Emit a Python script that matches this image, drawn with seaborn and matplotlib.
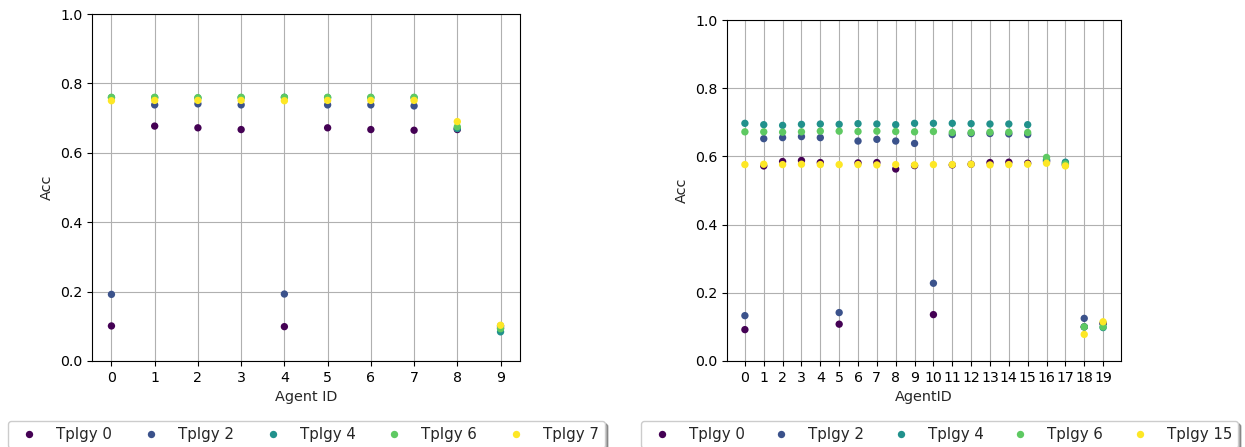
import numpy as np
import pandas as pd
import matplotlib
matplotlib.use("Agg")
import matplotlib.pyplot as plt
import seaborn as sns

# ---- left panel: 10 agents ----
agents_a = list(range(10))
topos_a = ["Tplgy 0", "Tplgy 2", "Tplgy 4", "Tplgy 6", "Tplgy 7"]
acc_a_t0 = [0.101, 0.677, 0.672, 0.667, 0.099, 0.672, 0.667, 0.665, 0.667, 0.101]
acc_a_t2 = [0.192, 0.738, 0.741, 0.738, 0.193, 0.738, 0.738, 0.735, 0.670, 0.095]
acc_a_t4 = [0.759, 0.759, 0.758, 0.759, 0.760, 0.759, 0.759, 0.759, 0.670, 0.084]
acc_a_t6 = [0.760, 0.760, 0.759, 0.760, 0.760, 0.760, 0.760, 0.760, 0.675, 0.093]
acc_a_t7 = [0.750, 0.751, 0.751, 0.751, 0.750, 0.751, 0.751, 0.751, 0.690, 0.103]

# ---- right panel: 20 agents ----
agents_b = list(range(20))
topos_b = ["Tplgy 0", "Tplgy 2", "Tplgy 4", "Tplgy 6", "Tplgy 15"]
acc_b_t0 = [0.092, 0.572, 0.585, 0.588, 0.582, 0.108, 0.581, 0.582, 0.563, 0.573,
            0.136, 0.575, 0.577, 0.582, 0.583, 0.580, 0.585, 0.575, 0.100, 0.110]
acc_b_t2 = [0.133, 0.652, 0.655, 0.658, 0.655, 0.142, 0.645, 0.650, 0.645, 0.638,
            0.228, 0.664, 0.667, 0.667, 0.666, 0.664, 0.588, 0.580, 0.125, 0.110]
acc_b_t4 = [0.697, 0.693, 0.691, 0.694, 0.695, 0.694, 0.696, 0.695, 0.693, 0.697,
            0.697, 0.697, 0.696, 0.695, 0.695, 0.693, 0.590, 0.583, 0.100, 0.098]
acc_b_t6 = [0.672, 0.672, 0.671, 0.672, 0.674, 0.674, 0.673, 0.674, 0.673, 0.672,
            0.673, 0.670, 0.670, 0.671, 0.671, 0.670, 0.597, 0.578, 0.100, 0.100]
acc_b_t15 = [0.576, 0.577, 0.576, 0.577, 0.576, 0.576, 0.576, 0.575, 0.576, 0.575,
             0.576, 0.576, 0.577, 0.575, 0.576, 0.577, 0.580, 0.572, 0.078, 0.115]


def long_df(agents, topos, series):
    rows = []
    for name, vals in zip(topos, series):
        for a, v in zip(agents, vals):
            rows.append({"agent": a, "acc": v, "topo": name})
    return pd.DataFrame(rows)


df_a = long_df(agents_a, topos_a, [acc_a_t0, acc_a_t2, acc_a_t4, acc_a_t6, acc_a_t7])
df_b = long_df(agents_b, topos_b, [acc_b_t0, acc_b_t2, acc_b_t4, acc_b_t6, acc_b_t15])

# viridis including both ends, as matplotlib would sample it
colors = [matplotlib.colors.to_hex(c) for c in plt.cm.viridis(np.linspace(0, 1, 5))]

sns.set_style("ticks", {"axes.grid": True, "grid.color": "#b0b0b0",
                        "axes.edgecolor": "black", "xtick.color": "black",
                        "ytick.color": "black"})
plt.rcParams["font.family"] = ["DejaVu Sans"]
plt.rcParams["font.size"] = 10

W, H = 1245, 447
fig = plt.figure(figsize=(W / 100, H / 100), dpi=100)
ax1 = fig.add_axes([92 / W, 1 - 361 / H, 428 / W, 347 / H])
ax2 = fig.add_axes([727 / W, 1 - 361 / H, 394 / W, 341 / H])

panels = [(ax1, df_a, topos_a, agents_a, "Agent ID", 8),
          (ax2, df_b, topos_b, agents_b, "AgentID", 641)]

for ax, df, topos, agents, xlab, lx in panels:
    sns.scatterplot(data=df, x="agent", y="acc", hue="topo", hue_order=topos,
                    palette=colors, s=28, linewidth=0, ax=ax)
    ax.set_ylim(0, 1)
    ax.set_yticks(np.arange(0, 1.01, 0.2))
    ax.set_xticks(agents)
    ax.set_xlabel(xlab, fontsize=10.4)
    ax.set_ylabel("Acc", fontsize=10.4)
    ax.tick_params(labelsize=10.2)
    ax.grid(True, color="#b0b0b0", linewidth=0.8)
    ax.set_axisbelow(True)
    handles, labels = ax.get_legend_handles_labels()
    ax.get_legend().remove()
    fig.legend(handles, labels, loc="upper left", ncol=5, mode="expand",
               bbox_to_anchor=(lx / W, 1 - 421 / H, 597 / W, 0),
               bbox_transform=fig.transFigure, borderaxespad=0,
               shadow=True, fancybox=True, fontsize=10.8, framealpha=1,
               edgecolor="#cccccc")

fig.savefig("out.png", dpi=100)
